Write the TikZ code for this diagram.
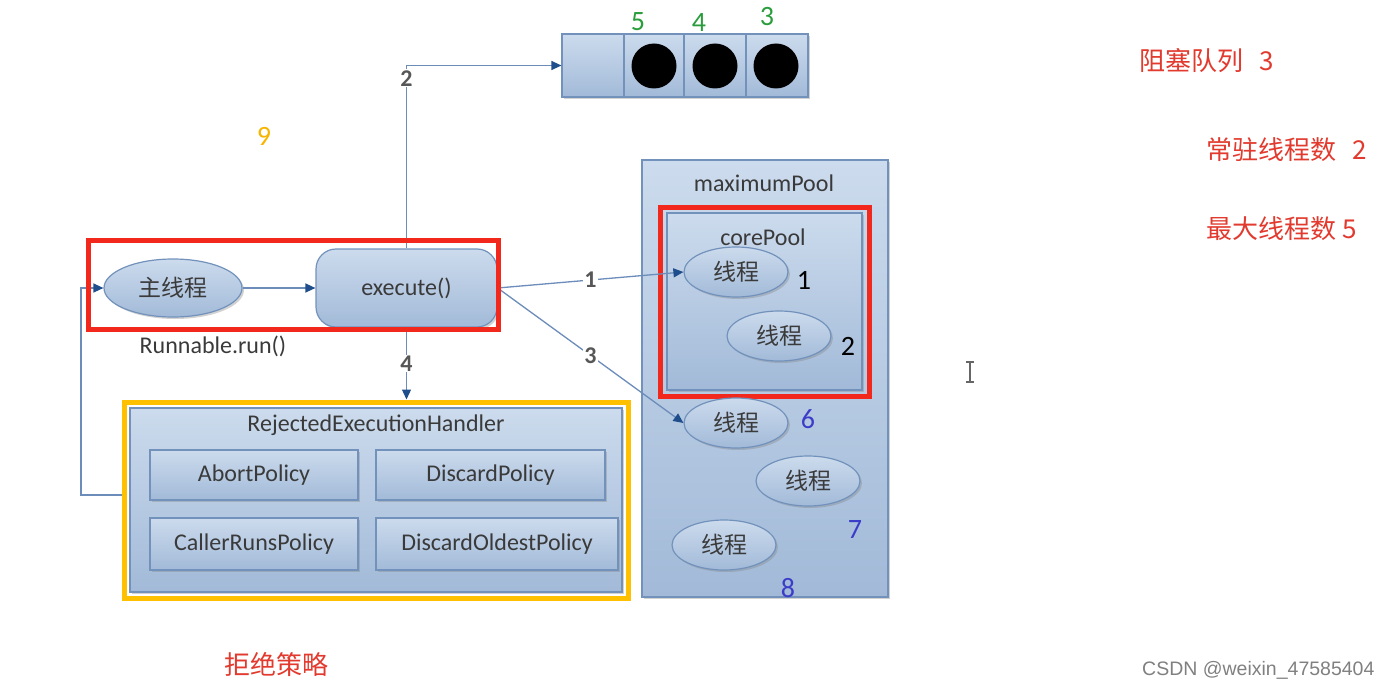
\documentclass[tikz,border=0pt]{standalone}
\usepackage{fontspec}
\setmainfont{Carlito}
\newfontfamily\cjk{Noto Sans CJK SC}
\usetikzlibrary{shapes.geometric,shadows,arrows.meta}
\definecolor{btop}{HTML}{CCDBED}
\definecolor{bbot}{HTML}{A2BAD8}
\definecolor{bdr}{HTML}{7292BC}
\definecolor{lnc}{HTML}{6C8CBA}
\definecolor{arc}{HTML}{1F4E8C}
\definecolor{txt}{HTML}{3A3A3A}
\definecolor{redbox}{HTML}{F2281C}
\definecolor{redtxt}{HTML}{E23A2E}
\definecolor{grn}{HTML}{2A9D3C}
\definecolor{blu}{HTML}{3C3CC8}
\definecolor{org}{HTML}{F7B500}
\definecolor{yel}{HTML}{FFC000}
\tikzset{
  fs/.style={font=\fontsize{#1}{#1}\selectfont},
  bx/.style={draw=bdr, top color=btop, bottom color=bbot, line width=1.2pt,
     drop shadow={opacity=0.35,shadow xshift=2pt,shadow yshift=-2pt}},
  rbox/.style={rectangle, bx, inner sep=0pt, text=txt},
  thr/.style={ellipse, bx, minimum width=104pt, minimum height=50pt, inner sep=0pt,
     text=txt, font=\cjk\fontsize{23}{23}\selectfont},
  con/.style={draw=lnc, line width=1.3pt},
  arr/.style={con, -{Triangle[length=10pt,width=9pt,color=arc]}},
  lbl/.style={fill=white, inner sep=1pt, text=txt!85, font=\bfseries\fontsize{24}{24}\selectfont},
  frame/.style={rectangle, draw=#1, line width=5pt, inner sep=0pt, fill=none},
  rtext/.style={text=redtxt, font=\cjk\fontsize{26}{26}\selectfont, anchor=west},
  numb/.style={text=#1, fs=28},
}
\begin{document}
\begin{tikzpicture}[x=1pt,y=-1pt]
\useasboundingbox (0,0) rectangle (1391,690);
\fill[white] (0,0) rectangle (1391,690);

% queue
\node[rbox, minimum width=246pt, minimum height=63pt] (queue) at (685,65.5) {};
\draw[bdr, line width=1.2pt] (624,34) -- (624,97) (684,34) -- (684,97) (746,34) -- (746,97);
\node[circle, fill=black, minimum size=45pt, inner sep=0pt] (b1) at (654,66) {};
\node[circle, fill=black, minimum size=45pt, inner sep=0pt] (b2) at (715,66) {};
\node[circle, fill=black, minimum size=45pt, inner sep=0pt] (b3) at (776,66) {};
\node[numb=grn] (n5) at (638,22) {5};
\node[numb=grn] (n4) at (699,23) {4};
\node[numb=grn] (n3) at (767,17) {3};

% 9
\node[numb=org] (n9) at (264,136) {9};

% maximum pool
\node[rbox, minimum width=246pt, minimum height=437pt] (maxp) at (765,378.5) {};
\node[text=txt, fs=24] (maxl) at (764,183) {maximumPool};
\node[rbox, minimum width=195pt, minimum height=177pt] (corep) at (764.5,301.5) {};
\node[text=txt, fs=24] (corel) at (763,237) {corePool};
\node[frame=redbox, minimum width=209pt, minimum height=189pt] (redc) at (764.5,301.5) {};

\node[thr] (t1) at (736,272) {线程};
\node[thr] (t2) at (779,336) {线程};
\node[thr] (t6) at (736,423) {线程};
\node[thr] (t7) at (808,481) {线程};
\node[thr] (t8) at (724,545) {线程};
\node[numb=black] (k1) at (804,280) {1};
\node[numb=black] (k2) at (848,346) {2};
\node[numb=blu] (k6) at (808,419) {6};
\node[numb=blu] (k7) at (855,530) {7};
\node[numb=blu] (k8) at (788,588) {8};

% main thread and execute
\node[ellipse, bx, minimum width=138pt, minimum height=58pt, inner sep=0pt, text=txt,
      font=\cjk\fontsize{23}{23}\selectfont] (main) at (173,288) {主线程};
\node[rbox, rounded corners=20pt, minimum width=181pt, minimum height=78pt, fs=24] (exec) at (406.5,288) {execute()};
\node[text=txt, fs=24] (run) at (213,346) {Runnable.run()};

% handler
\node[rbox, minimum width=492pt, minimum height=184pt] (handler) at (376,500) {};
\node[text=txt, fs=24] (hl) at (376,425) {RejectedExecutionHandler};
\node[rbox, minimum width=208pt, minimum height=50pt, fs=24] (abort) at (254,475) {AbortPolicy};
\node[rbox, minimum width=229pt, minimum height=50pt, fs=24] (disc) at (490.5,475) {DiscardPolicy};
\node[rbox, minimum width=208pt, minimum height=52pt, fs=24] (caller) at (254,544) {CallerRunsPolicy};
\node[rbox, minimum width=242pt, minimum height=52pt, fs=24] (oldest) at (497,544) {DiscardOldestPolicy};
\node[frame=yel, minimum width=504pt, minimum height=196pt] (hy) at (376,500) {};

% connectors
\draw[arr] (main.east) -- (exec.west);
\draw[arr] (exec.north) |- (queue.west) node[lbl, pos=0.465] {2};
\draw[arr] (exec.east) -- (t1.west) node[lbl, pos=0.5] {1};
\draw[arr] (exec.east) -- (t6.west) node[lbl, pos=0.5] {3};
\draw[arr] (exec.south) -- (exec.south |- hy.north) node[lbl, pos=0.5] {4};
\coordinate (fb) at (81,495);
\draw[arr] (hy.west |- fb) -- (fb) |- (main.west);

% red frame around main/execute
\node[frame=redbox, minimum width=410pt, minimum height=89pt] (redm) at (293,284.5) {};

% right texts
\node[rtext] (q3) at (1136,61) {阻塞队列\hspace{0.6em}3};
\node[rtext] (c2) at (1203,150) {常驻线程数\hspace{0.6em}2};
\node[rtext] (m5) at (1203,229) {最大线程数 5};
\node[text=redtxt, font=\cjk\fontsize{26}{26}\selectfont] (rej) at (276,664) {拒绝策略};
\node[text=gray, font=\fontsize{19.5}{19.5}\selectfont\fontspec{Liberation Sans}, anchor=east] (csdn) at (1378,670) {CSDN @weixin\_47585404};

% text cursor
\draw[gray!80!black, line width=1.2pt] (970,362) -- (970,382) (966,362) -- (974,362) (966,382) -- (974,382);
\end{tikzpicture}
\end{document}
